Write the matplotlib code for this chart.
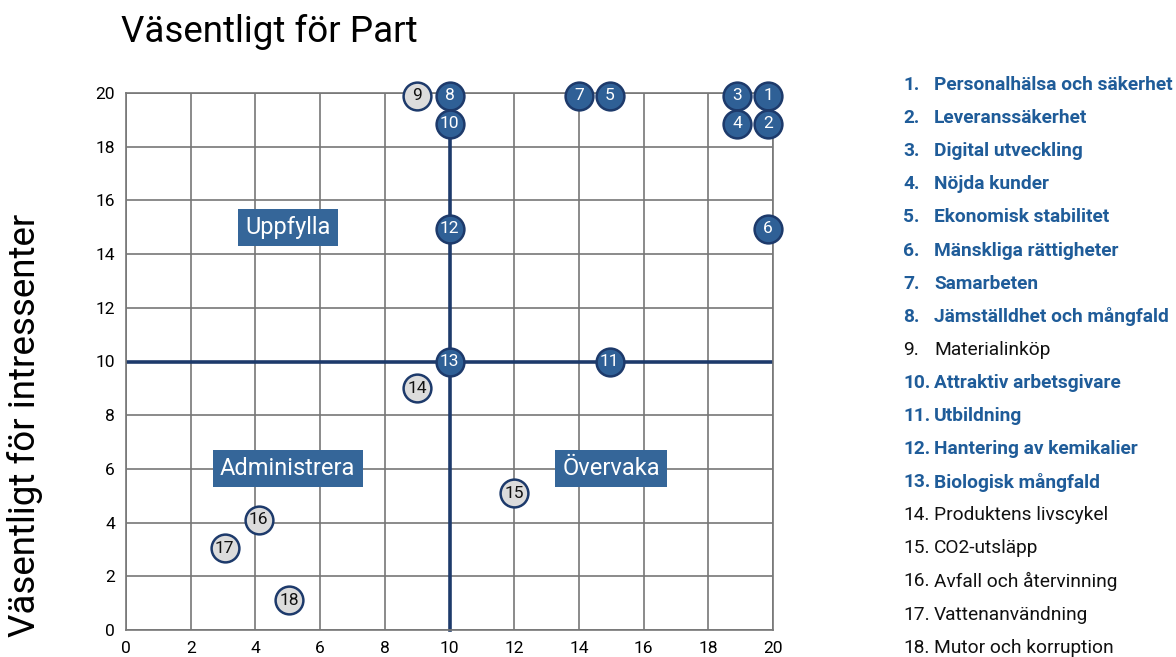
import matplotlib
matplotlib.use("Agg")
import matplotlib.pyplot as plt

plt.rcParams['font.family'] = ['Roboto', 'DejaVu Sans']

# punkter: (nummer, x = väsentligt för Part, y = väsentligt för intressenter)
nums = list(range(1, 19))
xs = [19.85, 19.85, 18.9, 18.9, 14.95, 19.85, 14.0, 10.0, 9.0, 10.0,
      14.95, 10.0, 10.0, 9.0, 12.0, 4.1, 3.05, 5.05]
ys = [19.9, 18.85, 19.9, 18.85, 19.9, 14.95, 19.9, 19.9, 19.9, 18.85,
      10.0, 14.95, 10.0, 9.0, 5.1, 4.1, 3.05, 1.1]
labels = ["Personalhälsa och säkerhet", "Leveranssäkerhet", "Digital utveckling",
          "Nöjda kunder", "Ekonomisk stabilitet", "Mänskliga rättigheter",
          "Samarbeten", "Jämställdhet och mångfald", "Materialinköp",
          "Attraktiv arbetsgivare", "Utbildning", "Hantering av kemikalier",
          "Biologisk mångfald", "Produktens livscykel", "CO2-utsläpp",
          "Avfall och återvinning", "Vattenanvändning", "Mutor och korruption"]
highlight = [True] * 8 + [False] + [True] * 4 + [False] * 5

quad_names = ["Uppfylla", "Administrera", "Övervaka"]
quad_x = [5, 5, 15]
quad_y = [15, 6, 6]

ticks = list(range(0, 21, 2))

BLUE = "#2f6096"
NAVY = "#1d3a6b"
GREY = "#dcdcdc"
TXTBLUE = "#1f5c99"

fig = plt.figure(figsize=(11.76, 6.57), dpi=100)
ax = fig.add_axes([126 / 1176, 1 - 630 / 657, 647 / 1176, 537 / 657])
ax.set_xlim(0, 20)
ax.set_ylim(0, 20)
ax.set_xticks(ticks)
ax.set_yticks(ticks)
ax.tick_params(length=0, labelsize=12.5, pad=8)
ax.grid(True, color="#777777", lw=1.2)
for s in ax.spines.values():
    s.set_color("#777777")
    s.set_linewidth(1.2)
ax.set_axisbelow(True)

# kvadrantlinjer
ax.axhline(10, color=NAVY, lw=2.6, zorder=2)
ax.plot([10, 10], [0, ys[9]], color=NAVY, lw=2.6, zorder=2, clip_on=False)

for name, qx, qy in zip(quad_names, quad_x, quad_y):
    ax.text(qx, qy, name, ha="center", va="center", color="white", fontsize=17,
            bbox=dict(boxstyle="square,pad=0.3", fc="#356699", ec="none"), zorder=3)

for n, x, y, h in zip(nums, xs, ys, highlight):
    ax.plot(x, y, "o", ms=20, mfc=BLUE if h else GREY, mec=NAVY, mew=1.8,
            zorder=5, clip_on=False)
    ax.text(x, y, str(n), ha="center", va="center", fontsize=12.5,
            color="white" if h else "#111111", zorder=6)

fig.text(121 / 1176, 1 - 32 / 657, "Väsentligt för Part", fontsize=26.5,
         va="center", ha="left")
fig.text(25 / 1176, 1 - 425 / 657, "Väsentligt för intressenter", fontsize=26.5,
         rotation=90, va="center", ha="center")

# förteckning till höger
for i, (n, lab, h) in enumerate(zip(nums, labels, highlight)):
    yy = 1 - (85 + i * 33.1) / 657
    kw = dict(fontsize=13.8, va="center", ha="left",
              color=TXTBLUE if h else "#111111",
              fontweight="bold" if h else "normal")
    fig.text(903 / 1176, yy, f"{n}.", **kw)
    fig.text(934 / 1176, yy, lab, **kw)

fig.savefig("out.png", dpi=100)
